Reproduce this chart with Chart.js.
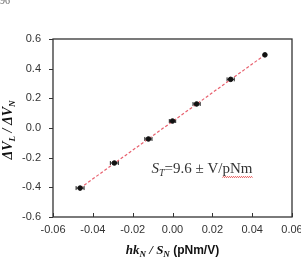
<!DOCTYPE html>
<html><head><meta charset="utf-8">
<script src="https://cdn.jsdelivr.net/npm/chart.js@4"></script>
<style>html,body{margin:0;padding:0;background:#fff}#w{width:301px;height:258px}</style>
</head><body><div id="w"><canvas id="c"></canvas></div>
<script>
const xValues = [-0.0464, -0.0292, -0.0121, 0.0000, 0.0121, 0.0292, 0.0464];
const yValues = [-0.405, -0.236, -0.074, 0.047, 0.162, 0.328, 0.493];
const xErrors = [0.0020, 0.0020, 0.0018, 0.0016, 0.0018, 0.0018, 0.0];
const fitX = [-0.0464, 0.0464];
const fitY = [-0.405, 0.493];
const xTicks = [-0.06, -0.04, -0.02, 0.00, 0.02, 0.04, 0.06];
const yTicks = [-0.6, -0.4, -0.2, 0.0, 0.2, 0.4, 0.6];

const pts = xValues.map((x, i) => ({x, y: yValues[i], e: xErrors[i]}));
const fit = fitX.map((x, i) => ({x, y: fitY[i]}));

const deco = {
  id: 'deco',
  beforeDatasetsDraw(chart) {
    const {ctx, chartArea: a, scales: {x, y}} = chart;
    ctx.save();
    ctx.strokeStyle = '#222';
    ctx.lineWidth = 1;
    pts.forEach(p => {
      if (!p.e) return;
      const x1 = x.getPixelForValue(p.x - p.e), x2 = x.getPixelForValue(p.x + p.e);
      const py = y.getPixelForValue(p.y);
      ctx.beginPath();
      ctx.moveTo(x1, py); ctx.lineTo(x2, py);
      ctx.moveTo(x1, py - 2); ctx.lineTo(x1, py + 2);
      ctx.moveTo(x2, py - 2); ctx.lineTo(x2, py + 2);
      ctx.stroke();
    });
    ctx.restore();
  },
  afterDraw(chart) {
    const {ctx, chartArea: a, scales: {x, y}} = chart;
    ctx.save();
    ctx.strokeStyle = '#333';
    ctx.lineWidth = 1.3;
    ctx.strokeRect(a.left, a.top, a.right - a.left, a.bottom - a.top);
    ctx.lineWidth = 1;
    yTicks.forEach(v => {
      const py = Math.round(y.getPixelForValue(v)) + 0.5;
      ctx.beginPath(); ctx.moveTo(a.left - 4, py); ctx.lineTo(a.left, py); ctx.stroke();
    });
    xTicks.forEach(v => {
      const px = Math.round(x.getPixelForValue(v)) + 0.5;
      ctx.beginPath(); ctx.moveTo(px, a.bottom); ctx.lineTo(px, a.bottom - 4); ctx.stroke();
    });
    ctx.fillStyle = '#111';
    ctx.textBaseline = 'alphabetic';
    const segsX = [
      {t: 'hk', f: 'bold italic 13px "Liberation Serif"'},
      {t: 'N', f: 'bold italic 9px "Liberation Serif"', dy: 3},
      {t: ' / ', f: 'bold italic 13px "Liberation Serif"'},
      {t: 'S', f: 'bold italic 13px "Liberation Serif"'},
      {t: 'N', f: 'bold italic 9px "Liberation Serif"', dy: 3},
      {t: ' (pNm/V)', f: 'bold 12px "Liberation Sans"'}
    ];
    drawSegs(ctx, segsX, (a.left + a.right) / 2, 254);
    ctx.save();
    ctx.translate(12, 130);
    ctx.rotate(-Math.PI / 2);
    const segsY = [
      {t: 'ΔV', f: 'bold italic 14px "Liberation Serif"'},
      {t: 'L', f: 'bold italic 9px "Liberation Serif"', dy: 3},
      {t: ' / ', f: 'bold italic 14px "Liberation Serif"'},
      {t: 'ΔV', f: 'bold italic 14px "Liberation Serif"'},
      {t: 'N', f: 'bold italic 9px "Liberation Serif"', dy: 3}
    ];
    drawSegs(ctx, segsY, 0, 0);
    ctx.restore();
    ctx.fillStyle = '#333';
    const segsA = [
      {t: 'S', f: 'italic 15px "Liberation Serif"'},
      {t: 'T', f: 'italic 10px "Liberation Serif"', dy: 3},
      {t: '=9.6 ± V/pNm', f: '15px "Liberation Serif"'}
    ];
    const endX = drawSegs(ctx, segsA, 202, 173);
    ctx.font = '15px "Liberation Serif"';
    const w = ctx.measureText('pNm').width;
    ctx.strokeStyle = '#e03030';
    ctx.lineWidth = 0.8;
    ctx.beginPath();
    for (let xx = endX - w; xx <= endX; xx += 1) {
      const yy = 177 + ((Math.round(xx) % 2) ? 0.6 : -0.6);
      if (xx === endX - w) ctx.moveTo(xx, yy); else ctx.lineTo(xx, yy);
    }
    ctx.stroke();
    ctx.fillStyle = '#666';
    ctx.font = '10px "Liberation Serif"';
    ctx.fillText('96', 0, 4);
    ctx.restore();
  }
};

function drawSegs(ctx, segs, cx, by) {
  let total = 0;
  segs.forEach(s => { ctx.font = s.f; s.w = ctx.measureText(s.t).width; total += s.w; });
  let xx = cx - total / 2;
  segs.forEach(s => { ctx.font = s.f; ctx.textAlign = 'left'; ctx.fillText(s.t, xx, by + (s.dy || 0)); xx += s.w; });
  return xx;
}

new Chart(document.getElementById('c'), {
  type: 'scatter',
  data: {
    datasets: [
      {data: fit, showLine: true, borderColor: '#e8606e', borderWidth: 1.2, borderDash: [3, 2], pointRadius: 0, order: 2},
      {data: pts, backgroundColor: '#111', borderColor: '#111', pointRadius: 2.3, order: 1}
    ]
  },
  options: {
    responsive: true, maintainAspectRatio: false, animation: false,
    events: [],
    layout: {padding: {left: 0, right: 0, top: 39, bottom: 21}},
    plugins: {legend: {display: false}, tooltip: {enabled: false}},
    scales: {
      x: {
        type: 'linear', min: -0.06, max: 0.06,
        afterBuildTicks: s => { s.ticks = xTicks.map(v => ({value: v})); },
        afterFit: s => { s.height = 20; s.paddingRight = 9; },
        grid: {display: false, drawTicks: false},
        border: {display: false},
        ticks: {padding: 6, font: {family: 'Liberation Sans', size: 11}, color: '#333',
          callback: v => v.toFixed(2), maxRotation: 0, autoSkip: false}
      },
      y: {
        type: 'linear', min: -0.6, max: 0.6,
        afterBuildTicks: s => { s.ticks = yTicks.map(v => ({value: v})); },
        afterFit: s => { s.width = 53; },
        grid: {display: false, drawTicks: false},
        border: {display: false},
        ticks: {padding: 12, font: {family: 'Liberation Sans', size: 11}, color: '#333',
          callback: v => v.toFixed(1), autoSkip: false}
      }
    }
  },
  plugins: [deco]
});
</script>
</body></html>
